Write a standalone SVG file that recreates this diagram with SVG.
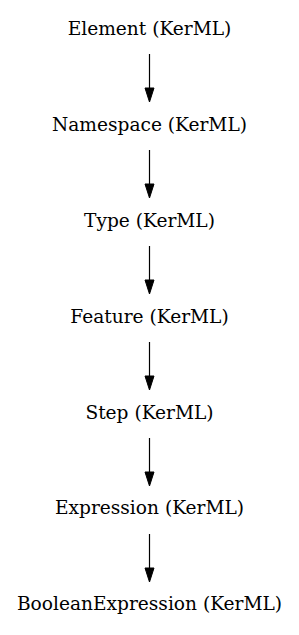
<svg xmlns="http://www.w3.org/2000/svg" width="299" height="635" viewBox="0 0 299 635">
<style>
text{font-family:"DejaVu Serif",serif;font-size:18.6px;fill:#000;text-anchor:middle}
.e{stroke:#000;stroke-width:1.2;fill:none}
.h{fill:#000;stroke:#000;stroke-width:1}
</style>
<rect width="299" height="635" fill="#fff"/>
<g id="connectors">
<path class="e" d="M149.5,54V88"/><path class="h" d="M145,88L154,88L149.5,102Z"/>
<path class="e" d="M149.5,150V184"/><path class="h" d="M145,184L154,184L149.5,198Z"/>
<path class="e" d="M149.5,246V280"/><path class="h" d="M145,280L154,280L149.5,294Z"/>
<path class="e" d="M149.5,342V376"/><path class="h" d="M145,376L154,376L149.5,390Z"/>
<path class="e" d="M149.5,438V472"/><path class="h" d="M145,472L154,472L149.5,486Z"/>
<path class="e" d="M149.5,534V568"/><path class="h" d="M145,568L154,568L149.5,582Z"/>
</g>
<g id="element"><text x="149.5" y="35">Element (KerML)</text></g>
<g id="namespace"><text x="149.5" y="131">Namespace (KerML)</text></g>
<g id="type"><text x="149.5" y="227">Type (KerML)</text></g>
<g id="feature"><text x="149.5" y="322.5">Feature (KerML)</text></g>
<g id="step"><text x="149.5" y="418.5">Step (KerML)</text></g>
<g id="expression"><text x="149.5" y="514">Expression (KerML)</text></g>
<g id="booleanexpression"><text x="149.5" y="610">BooleanExpression (KerML)</text></g>
</svg>
